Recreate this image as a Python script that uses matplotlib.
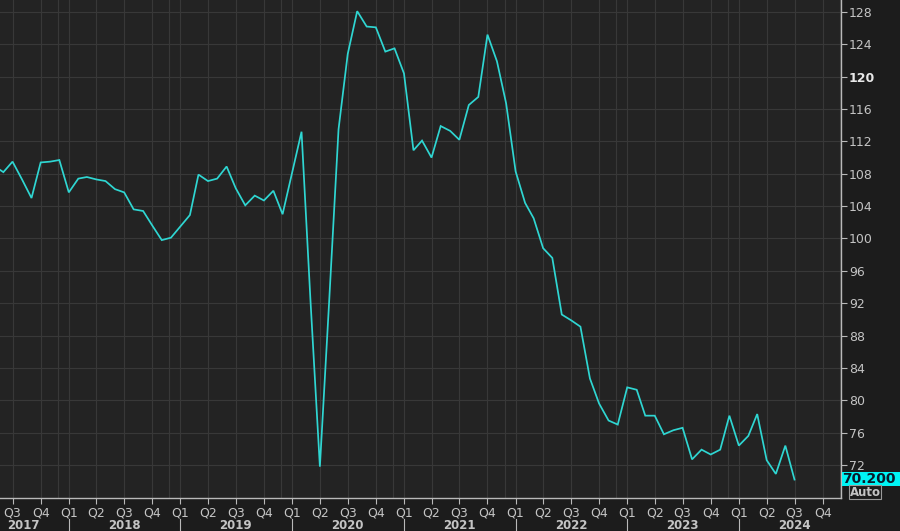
#!/usr/bin/env python3
"""Monthly index, mid-2017 to mid-2024, drawn in a dark terminal-style chart."""
from __future__ import annotations

import datetime as dt

import matplotlib
matplotlib.use("Agg")
import matplotlib.dates as mdates
import matplotlib.pyplot as plt
import matplotlib.transforms as mtransforms
import pandas as pd

# ---- data ----------------------------------------------------------------
START_MONTH = "2017-05-01"
VALUES = [
    # 2017 May..Dec
    109.0, 108.2, 109.5, 107.3, 105.0, 109.4, 109.5, 109.7,
    # 2018
    105.7, 107.4, 107.6, 107.3, 107.1, 106.1, 105.7, 103.6, 103.4, 101.6, 99.8, 100.1,
    # 2019
    101.5, 102.9, 107.9, 107.1, 107.4, 108.9, 106.2, 104.1, 105.3, 104.7, 105.9, 103.0,
    # 2020
    108.1, 113.2, 92.5, 71.8, 92.0, 113.5, 122.8, 128.1, 126.2, 126.1, 123.1, 123.5,
    # 2021
    120.4, 110.9, 112.1, 110.0, 113.9, 113.3, 112.2, 116.5, 117.5, 125.2, 121.9, 116.7,
    # 2022
    108.3, 104.4, 102.5, 98.8, 97.6, 90.6, 89.9, 89.1, 82.7, 79.6, 77.5, 77.0,
    # 2023
    81.6, 81.3, 78.1, 78.1, 75.8, 76.3, 76.6, 72.7, 73.9, 73.3, 73.9, 78.1,
    # 2024 Jan..Jul
    74.4, 75.6, 78.3, 72.6, 70.9, 74.4, 70.2,
]
LAST_LABEL = "70.200"
Y_TICKS = list(range(72, 129, 4))
BOLD_Y_TICK = 120
YEARS = list(range(2017, 2025))
QUARTER_LABELS = ["Q1", "Q2", "Q3", "Q4"]

# ---- look ----------------------------------------------------------------
BG_OUT = "#1c1c1c"
BG_PLOT = "#232323"
GRID = "#383838"
AXIS = "#b9b9b9"
TEXT = "#c4c4c4"
LINE = "#2fd6d2"


def main() -> int:
    dates = pd.date_range(START_MONTH, periods=len(VALUES), freq="MS")

    fig = plt.figure(figsize=(9.0, 5.31), dpi=100, facecolor=BG_OUT)
    ax = fig.add_axes([0.0, 0.0621, 0.9341, 0.9379])
    ax.set_facecolor(BG_PLOT)

    ax.plot(dates, VALUES, color=LINE, lw=1.25, solid_joinstyle="miter", zorder=3)

    ax.set_xlim(dt.date(2017, 5, 21), dt.date(2024, 11, 29))
    ax.set_ylim(67.92, 129.48)

    # ---- grid -------------------------------------------------------------
    q_starts = pd.date_range("2017-07-01", "2024-10-01", freq="QS")
    for d in q_starts:
        ax.axvline(d, color=GRID, lw=0.8, zorder=1)
    for y in YEARS:
        ax.axvline(dt.date(y, 11, 26), color=GRID, lw=0.8, zorder=1)
    for v in Y_TICKS:
        ax.axhline(v, color=GRID, lw=0.8, zorder=1)

    # ---- spines -----------------------------------------------------------
    for side in ("top", "left"):
        ax.spines[side].set_visible(False)
    for side in ("right", "bottom"):
        ax.spines[side].set_color(AXIS)
        ax.spines[side].set_linewidth(1.0)

    # ---- y axis on the right ---------------------------------------------
    ax.yaxis.tick_right()
    ax.set_yticks(Y_TICKS)
    ax.set_yticklabels([str(v) for v in Y_TICKS])
    ax.tick_params(axis="y", colors=AXIS, labelcolor=TEXT, length=4, width=0.8,
                   pad=2, labelsize=9)
    for lab in ax.get_yticklabels():
        if lab.get_text() == str(BOLD_Y_TICK):
            lab.set_fontweight("bold")
            lab.set_color("#e8e8e8")

    # ---- x axis: quarters + years ----------------------------------------
    ax.set_xticks(q_starts)
    ax.set_xticklabels([QUARTER_LABELS[(d.month - 1) // 3] for d in q_starts])
    ax.tick_params(axis="x", colors=AXIS, labelcolor=TEXT, length=4, width=0.8,
                   pad=2, labelsize=9)

    trans = mtransforms.blended_transform_factory(ax.transData, ax.transAxes)
    for y in YEARS:
        if y == YEARS[0]:
            x_mid = mdates.date2num(dt.date(2017, 8, 7))
        else:
            x_mid = mdates.date2num(dt.date(y, 7, 1))
        ax.text(x_mid, -0.0545, str(y), transform=trans, ha="center", va="center",
                color=TEXT, fontsize=8.5, fontweight="bold", clip_on=False)
        if y > YEARS[0]:
            ax.plot([dt.date(y, 1, 1)] * 2, [-0.043, -0.07], transform=trans,
                    color=AXIS, lw=0.8, clip_on=False)

    # ---- last value tag + "Auto" -----------------------------------------
    fig.patches.append(plt.Rectangle((841.5 / 900, 1 - 486 / 531), 58.5 / 900,
                                     14.5 / 531, transform=fig.transFigure,
                                     fc="#00f5f5", ec="none", zorder=0))
    fig.text(842 / 900, 1 - 478.7 / 531, LAST_LABEL, ha="left", va="center",
             color="#0a1a2a", fontsize=10, fontweight="bold")
    fig.text(865 / 900, 1 - 492 / 531, "Auto", ha="center", va="center",
             color=TEXT, fontsize=8.5, fontweight="bold",
             bbox=dict(boxstyle="square,pad=0.08", fc=BG_OUT, ec="#9a9a9a", lw=0.8))

    fig.savefig("out.png", dpi=100, facecolor=BG_OUT)
    return 0


if __name__ == "__main__":
    raise SystemExit(main())
